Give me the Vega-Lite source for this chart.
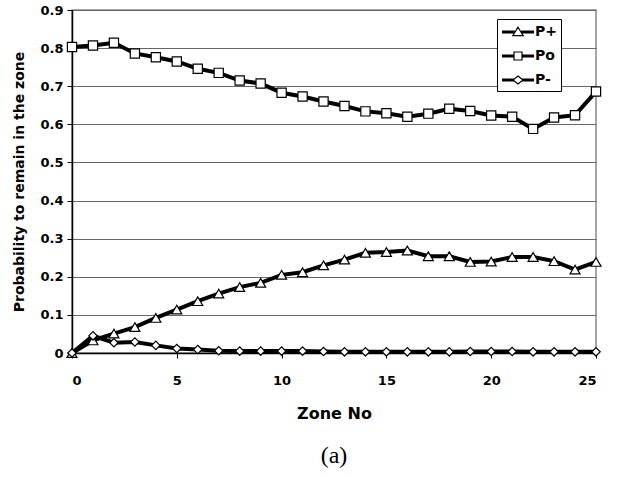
{
  "$schema": "https://vega.github.io/schema/vega-lite/v6.json",
  "width": 524,
  "height": 343,
  "autosize": "none",
  "padding": {"left": 72, "top": 10, "right": 24, "bottom": 125},
  "background": "white",
  "config": {
    "font": "DejaVu Sans",
    "view": {"stroke": "#888888", "strokeWidth": 1.5},
    "axis": {"labelFont": "DejaVu Sans", "titleFont": "DejaVu Sans"}
  },
  "title": {
    "text": "(a)",
    "orient": "bottom",
    "anchor": "middle",
    "font": "Liberation Serif",
    "fontSize": 24,
    "fontWeight": "normal",
    "color": "black",
    "offset": 23
  },
  "data": {
    "values": [
      {"zone": 0, "series": "P+", "p": 0.0},
      {"zone": 1, "series": "P+", "p": 0.033},
      {"zone": 2, "series": "P+", "p": 0.051},
      {"zone": 3, "series": "P+", "p": 0.068},
      {"zone": 4, "series": "P+", "p": 0.092},
      {"zone": 5, "series": "P+", "p": 0.114},
      {"zone": 6, "series": "P+", "p": 0.136},
      {"zone": 7, "series": "P+", "p": 0.156},
      {"zone": 8, "series": "P+", "p": 0.173},
      {"zone": 9, "series": "P+", "p": 0.184},
      {"zone": 10, "series": "P+", "p": 0.205},
      {"zone": 11, "series": "P+", "p": 0.212},
      {"zone": 12, "series": "P+", "p": 0.23},
      {"zone": 13, "series": "P+", "p": 0.245},
      {"zone": 14, "series": "P+", "p": 0.263},
      {"zone": 15, "series": "P+", "p": 0.265},
      {"zone": 16, "series": "P+", "p": 0.269},
      {"zone": 17, "series": "P+", "p": 0.254},
      {"zone": 18, "series": "P+", "p": 0.254},
      {"zone": 19, "series": "P+", "p": 0.239},
      {"zone": 20, "series": "P+", "p": 0.24},
      {"zone": 21, "series": "P+", "p": 0.252},
      {"zone": 22, "series": "P+", "p": 0.252},
      {"zone": 23, "series": "P+", "p": 0.241},
      {"zone": 24, "series": "P+", "p": 0.219},
      {"zone": 25, "series": "P+", "p": 0.239},
      {"zone": 0, "series": "Po", "p": 0.803},
      {"zone": 1, "series": "Po", "p": 0.807},
      {"zone": 2, "series": "Po", "p": 0.814},
      {"zone": 3, "series": "Po", "p": 0.786},
      {"zone": 4, "series": "Po", "p": 0.776},
      {"zone": 5, "series": "Po", "p": 0.765},
      {"zone": 6, "series": "Po", "p": 0.746},
      {"zone": 7, "series": "Po", "p": 0.735},
      {"zone": 8, "series": "Po", "p": 0.715},
      {"zone": 9, "series": "Po", "p": 0.707},
      {"zone": 10, "series": "Po", "p": 0.683},
      {"zone": 11, "series": "Po", "p": 0.673},
      {"zone": 12, "series": "Po", "p": 0.66},
      {"zone": 13, "series": "Po", "p": 0.648},
      {"zone": 14, "series": "Po", "p": 0.634},
      {"zone": 15, "series": "Po", "p": 0.629},
      {"zone": 16, "series": "Po", "p": 0.62},
      {"zone": 17, "series": "Po", "p": 0.628},
      {"zone": 18, "series": "Po", "p": 0.641},
      {"zone": 19, "series": "Po", "p": 0.635},
      {"zone": 20, "series": "Po", "p": 0.623},
      {"zone": 21, "series": "Po", "p": 0.62},
      {"zone": 22, "series": "Po", "p": 0.588},
      {"zone": 23, "series": "Po", "p": 0.618},
      {"zone": 24, "series": "Po", "p": 0.624},
      {"zone": 25, "series": "Po", "p": 0.686},
      {"zone": 0, "series": "P-", "p": 0.0},
      {"zone": 1, "series": "P-", "p": 0.045},
      {"zone": 2, "series": "P-", "p": 0.027},
      {"zone": 3, "series": "P-", "p": 0.029},
      {"zone": 4, "series": "P-", "p": 0.02},
      {"zone": 5, "series": "P-", "p": 0.012},
      {"zone": 6, "series": "P-", "p": 0.009},
      {"zone": 7, "series": "P-", "p": 0.006},
      {"zone": 8, "series": "P-", "p": 0.005},
      {"zone": 9, "series": "P-", "p": 0.005},
      {"zone": 10, "series": "P-", "p": 0.005},
      {"zone": 11, "series": "P-", "p": 0.005},
      {"zone": 12, "series": "P-", "p": 0.004},
      {"zone": 13, "series": "P-", "p": 0.003},
      {"zone": 14, "series": "P-", "p": 0.003},
      {"zone": 15, "series": "P-", "p": 0.003},
      {"zone": 16, "series": "P-", "p": 0.003},
      {"zone": 17, "series": "P-", "p": 0.003},
      {"zone": 18, "series": "P-", "p": 0.003},
      {"zone": 19, "series": "P-", "p": 0.004},
      {"zone": 20, "series": "P-", "p": 0.004},
      {"zone": 21, "series": "P-", "p": 0.004},
      {"zone": 22, "series": "P-", "p": 0.003},
      {"zone": 23, "series": "P-", "p": 0.003},
      {"zone": 24, "series": "P-", "p": 0.003},
      {"zone": 25, "series": "P-", "p": 0.003}
    ]
  },
  "encoding": {
    "x": {
      "field": "zone",
      "type": "quantitative",
      "scale": {"domain": [0, 25], "nice": false},
      "axis": {
        "title": "Zone No",
        "values": [0, 5, 10, 15, 20, 25],
        "grid": false,
        "domainColor": "black",
        "domainWidth": 1.5,
        "tickColor": "black",
        "tickSize": 5,
        "labelPadding": 16,
        "labelFontSize": 13,
        "labelFontWeight": "bold",
        "labelColor": "black",
        "titleFontSize": 16,
        "titleFontWeight": "bold",
        "titleColor": "black",
        "titlePadding": 18
      }
    },
    "y": {
      "field": "p",
      "type": "quantitative",
      "scale": {"domain": [0, 0.9], "nice": false},
      "axis": {
        "title": "Probability to remain in the zone",
        "values": [0, 0.1, 0.2, 0.3, 0.4, 0.5, 0.6, 0.7, 0.8, 0.9],
        "format": ".1~f",
        "grid": true,
        "gridColor": "#666666",
        "gridWidth": 1,
        "domainColor": "black",
        "domainWidth": 1.5,
        "tickColor": "black",
        "tickSize": 5,
        "labelPadding": 4,
        "labelFontSize": 13,
        "labelFontWeight": "bold",
        "labelColor": "black",
        "titleFontSize": 14,
        "titleFontWeight": "bold",
        "titleColor": "black",
        "titlePadding": 13
      }
    }
  },
  "layer": [
    {
      "mark": {"type": "line", "color": "black", "strokeWidth": 4},
      "encoding": {"detail": {"field": "series", "type": "nominal"}}
    },
    {
      "mark": {"type": "point", "filled": true, "fill": "white", "stroke": "black", "strokeWidth": 1.2, "opacity": 1},
      "encoding": {
        "shape": {
          "field": "series",
          "type": "nominal",
          "scale": {"domain": ["P+", "Po", "P-"], "range": ["triangle-up", "square", "diamond"]},
          "legend": null
        },
        "size": {
          "field": "series",
          "type": "nominal",
          "scale": {"domain": ["P+", "Po", "P-"], "range": [100, 70, 95]},
          "legend": null
        }
      }
    },
    {
      "data": {"values": []},
      "mark": {"type": "point", "filled": false, "color": "black", "strokeWidth": 1.2, "opacity": 1},
      "encoding": {
        "x": {"field": "zone", "type": "quantitative"},
        "y": {"field": "p", "type": "quantitative"},
        "shape": {
          "field": "series",
          "type": "nominal",
          "scale": {
            "domain": ["P+", "Po", "P-"],
            "range": [
              "M-2,-0.12L-0.42,-0.12M-2,0L-0.38,0M-2,0.12L-0.45,0.12M0.42,-0.12L2,-0.12M0.38,0L2,0M0.45,0.12L2,0.12M0,-0.6L0.65,0.45L-0.65,0.45Z",
              "M-2,-0.12L-0.5,-0.12M-2,0L-0.5,0M-2,0.12L-0.5,0.12M0.5,-0.12L2,-0.12M0.5,0L2,0M0.5,0.12L2,0.12M-0.5,-0.5L0.5,-0.5L0.5,0.5L-0.5,0.5Z",
              "M-2,-0.12L-0.5,-0.12M-2,0L-0.62,0M-2,0.12L-0.5,0.12M0.5,-0.12L2,-0.12M0.62,0L2,0M0.5,0.12L2,0.12M0,-0.5L0.62,0L0,0.5L-0.62,0Z"
            ]
          },
          "legend": {
            "title": null,
            "orient": "none",
            "legendX": 425,
            "legendY": 9,
            "strokeColor": "black",
            "fillColor": "white",
            "padding": 4,
            "symbolSize": 256,
            "symbolOffset": 8,
            "symbolStrokeColor": "black",
            "symbolStrokeWidth": 1.2,
            "symbolOpacity": 1,
            "labelOffset": 8,
            "labelFont": "DejaVu Sans",
            "labelFontSize": 14,
            "labelFontWeight": "bold",
            "labelColor": "black",
            "rowPadding": 8
          }
        }
      }
    }
  ],
  "resolve": {"scale": {"shape": "independent"}}
}
